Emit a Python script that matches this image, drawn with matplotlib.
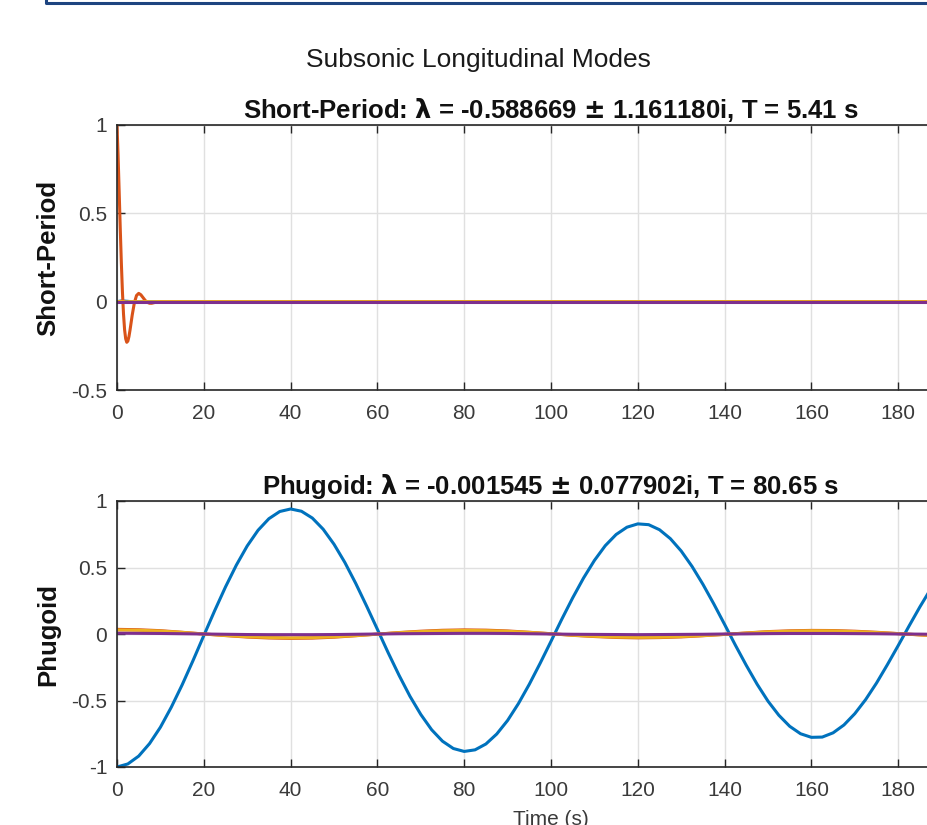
import matplotlib
matplotlib.use("Agg")
import matplotlib.pyplot as plt
from matplotlib.lines import Line2D

plt.rcParams['font.family'] = ['Liberation Sans', 'DejaVu Sans']

# MATLAB default line colours
colors = ['#0072BD', '#D95319', '#EDB120', '#7E2F8E']

# ---- Short-period mode response ----
sp_time = [0, 0.25, 0.5, 0.75, 1, 1.25, 1.5, 1.75, 2, 2.25, 2.5, 2.75, 3, 3.25, 3.5, 4,
           4.5, 5, 5.5, 6, 6.5, 7, 7.5, 8, 9, 10, 200]
sp_u = [0, 0.001, 0.002, 0.003, 0.004, 0.004, 0.004, 0.003, 0.003, 0.002, 0.002, 0.001,
        0.001, 0, 0, 0, 0, 0, 0, 0, 0, 0, 0, 0, 0, 0, 0]
sp_alpha = [1.0, 0.827, 0.623, 0.414, 0.221, 0.057, -0.070, -0.159, -0.210, -0.230,
            -0.223, -0.198, -0.161, -0.119, -0.077, -0.006, 0.035, 0.047, 0.039, 0.023,
            0.007, -0.004, -0.009, -0.009, -0.003, 0.0, 0.0]
sp_q = [0, 0, 0.001, 0.001, 0.001, 0, 0, 0, -0.001, -0.001, -0.001, 0, 0, 0, 0, 0,
        0, 0, 0, 0, 0, 0, 0, 0, 0, 0, 0]
sp_theta = [0] * 27

# ---- Phugoid mode response ----
ph_time_u = [i * 2.5 for i in range(81)]
ph_u = [-1.000, -0.977, -0.918, -0.824, -0.701, -0.551, -0.383, -0.201, -0.012, 0.175,
        0.354, 0.518, 0.662, 0.780, 0.867, 0.921, 0.940, 0.923, 0.872, 0.788,
        0.675, 0.538, 0.381, 0.211, 0.035, -0.142, -0.311, -0.468, -0.605, -0.720,
        -0.806, -0.861, -0.883, -0.871, -0.827, -0.752, -0.650, -0.523, -0.378, -0.220,
        -0.055, 0.112, 0.272, 0.421, 0.553, 0.664, 0.748, 0.803, 0.828, 0.822,
        0.784, 0.717, 0.624, 0.508, 0.374, 0.227, 0.072, -0.085, -0.236, -0.378,
        -0.505, -0.611, -0.694, -0.750, -0.777, -0.775, -0.743, -0.684, -0.599, -0.493,
        -0.369, -0.231, -0.087, 0.060, 0.204, 0.339, 0.459, 0.562, 0.643, 0.699,
        0.728]
ph_time = list(range(0, 205, 5))
ph_alpha = [0.035, 0.032, 0.025, 0.013, 0.000, -0.012, -0.023, -0.030, -0.033, -0.031,
            -0.024, -0.013, -0.001, 0.011, 0.021, 0.028, 0.031, 0.029, 0.023, 0.013,
            0.002, -0.010, -0.019, -0.026, -0.029, -0.027, -0.022, -0.013, -0.003, 0.008,
            0.018, 0.024, 0.027, 0.026, 0.021, 0.013, 0.003, -0.007, -0.016, -0.023,
            -0.025]
ph_q = [0.030, 0.028, 0.022, 0.012, 0.000, -0.011, -0.020, -0.026, -0.029, -0.027,
        -0.021, -0.012, -0.001, 0.010, 0.018, 0.024, 0.027, 0.025, 0.020, 0.012,
        0.002, -0.009, -0.017, -0.023, -0.025, -0.024, -0.019, -0.012, -0.003, 0.007,
        0.016, 0.021, 0.024, 0.023, 0.018, 0.011, 0.003, -0.006, -0.014, -0.020,
        -0.022]
ph_theta = [0.006, 0.005, 0.004, 0.002, 0.000, -0.002, -0.004, -0.005, -0.005, -0.005,
            -0.004, -0.002, 0.000, 0.002, 0.003, 0.004, 0.005, 0.005, 0.004, 0.002,
            0.000, -0.002, -0.003, -0.004, -0.005, -0.004, -0.003, -0.002, 0.000, 0.001,
            0.003, 0.004, 0.004, 0.004, 0.003, 0.002, 0.000, -0.001, -0.003, -0.004,
            -0.004]

x_ticks = [0, 20, 40, 60, 80, 100, 120, 140, 160, 180]
x_ticklabels = ['0', '20', '40', '60', '80', '100', '120', '140', '160', '180']
sp_yticks = [-0.5, 0, 0.5, 1]
sp_yticklabels = ['-0.5', '0', '0.5', '1']
ph_yticks = [-1, -0.5, 0, 0.5, 1]
ph_yticklabels = ['-1', '-0.5', '0', '0.5', '1']

suptitle = 'Subsonic Longitudinal Modes'
sp_title = r'Short-Period: $\mathbf{\lambda}$ = -0.588669 $\mathbf{\pm}$ 1.161180i, T = 5.41 s'
ph_title = r'Phugoid: $\mathbf{\lambda}$ = -0.001545 $\mathbf{\pm}$ 0.077902i, T = 80.65 s'

W, H = 927, 825
fig = plt.figure(figsize=(W / 100, H / 100), dpi=100)

axis_col = '#262626'
tick_col = '#3a3a3a'


def style(ax, yticks, yticklabels, ylim):
    ax.set_xlim(0, 200)
    ax.set_ylim(*ylim)
    ax.set_xticks(x_ticks)
    ax.set_xticklabels(x_ticklabels)
    ax.set_yticks(yticks)
    ax.set_yticklabels(yticklabels)
    ax.tick_params(direction='in', length=6, width=1.0, colors=axis_col,
                   labelcolor=tick_col, labelsize=15, top=True, right=True)
    ax.tick_params(axis='x', pad=10)
    ax.tick_params(axis='y', pad=7)
    for sp in ax.spines.values():
        sp.set_color(axis_col)
        sp.set_linewidth(1.2)
    ax.grid(True, color='#e0e0e0', linewidth=1.0)
    ax.set_axisbelow(True)


ax1 = fig.add_axes([117 / W, 1 - 390 / H, 868 / W, 265 / H])
for y, c in zip([sp_u, sp_alpha, sp_q, sp_theta], colors):
    ax1.plot(sp_time, y, color=c, linewidth=2.2)
style(ax1, sp_yticks, sp_yticklabels, (-0.5, 1))
ax1.set_title(sp_title, fontsize=18.5, fontweight='bold', color='#111111', pad=5)
ax1.set_ylabel('Short-Period', fontsize=18.5, fontweight='bold', color='#111111', labelpad=8)

ax2 = fig.add_axes([117 / W, 1 - 767 / H, 868 / W, 266 / H])
ax2.plot(ph_time_u, ph_u, color=colors[0], linewidth=2.2)
for y, c in zip([ph_alpha, ph_q, ph_theta], colors[1:]):
    ax2.plot(ph_time, y, color=c, linewidth=2.2)
style(ax2, ph_yticks, ph_yticklabels, (-1, 1))
ax2.set_title(ph_title, fontsize=18.5, fontweight='bold', color='#111111', pad=5)
ax2.set_ylabel('Phugoid', fontsize=18.5, fontweight='bold', color='#111111', labelpad=8)
ax2.set_xlabel('Time (s)', fontsize=15, color=tick_col, labelpad=7)

fig.text(478 / W, 1 - 60 / H, suptitle, fontsize=19, ha='center', va='center', color='#1a1a1a')

# window frame edge along the top
fig.add_artist(Line2D([46 / W, 46 / W, 1.0], [1.0, 1 - 3 / H, 1 - 3 / H],
                      transform=fig.transFigure, color='#1d4480', linewidth=2.2))

fig.savefig('out.png', dpi=100)
